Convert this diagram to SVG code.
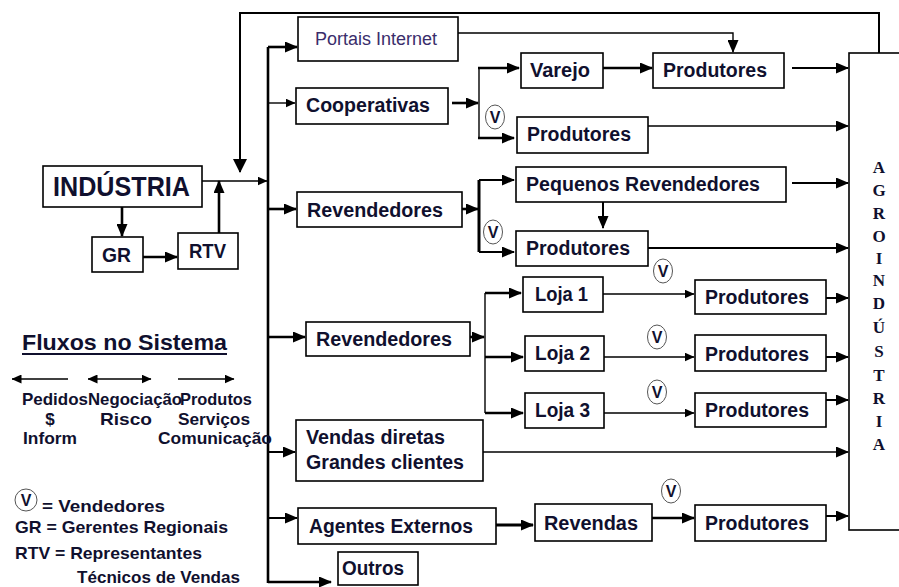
<svg xmlns="http://www.w3.org/2000/svg" width="899" height="587" viewBox="0 0 899 587">
<style>
.box{fill:#fff;stroke:#000;stroke-width:1.6}
.t{font-family:"Liberation Sans",Arial,sans-serif;font-weight:bold;font-size:20px;fill:#10102e}
.tl{font-family:"Liberation Sans",Arial,sans-serif;font-weight:bold;font-size:17px;fill:#10102e}
.ag{font-family:"Liberation Serif","Times New Roman",serif;font-weight:bold;font-size:17px;fill:#10102e;text-anchor:middle}
.c{fill:none;stroke:#000}
.k{stroke-width:2.6}
.m{stroke-width:2}
.n{stroke-width:1.4}
.v{fill:#fff;stroke:#555;stroke-width:1}
.vt{font-family:"Liberation Sans",Arial,sans-serif;font-weight:bold;font-size:16px;fill:#10102e;text-anchor:middle}
</style>
<defs>
<marker id="a" markerUnits="userSpaceOnUse" markerWidth="13" markerHeight="11" refX="12" refY="5.5" orient="auto"><path d="M0,0 L13,5.5 L0,11 Z" fill="#000"/></marker>
<marker id="s" markerUnits="userSpaceOnUse" markerWidth="10" markerHeight="9" refX="9.5" refY="4.5" orient="auto"><path d="M0,0 L10,4.5 L0,9 Z" fill="#000"/></marker>
<marker id="L" markerUnits="userSpaceOnUse" markerWidth="14" markerHeight="14" refX="13" refY="7" orient="auto"><path d="M0,0 L14,7 L0,14 Z" fill="#000"/></marker>
<marker id="sb" markerUnits="userSpaceOnUse" markerWidth="10" markerHeight="9" refX="0.5" refY="4.5" orient="auto"><path d="M10,0 L0,4.5 L10,9 Z" fill="#000"/></marker>
</defs>

<g id="connectors">
<line class="c k" x1="122" y1="207" x2="122" y2="236" marker-end="url(#a)"/>
<line class="c k" x1="143" y1="257" x2="177" y2="257" marker-end="url(#a)"/>
<line class="c k" x1="219" y1="233" x2="219" y2="181" marker-end="url(#a)"/>
<line class="c n" x1="197" y1="181" x2="267" y2="181" marker-end="url(#s)"/>
<path class="c m" d="M879,57 V13 H240 V172" marker-end="url(#L)"/>
<line class="c k" x1="268" y1="47" x2="268" y2="583"/>
<line class="c k" x1="268" y1="47" x2="297" y2="47" marker-end="url(#a)"/>
<line class="c n" x1="268" y1="103" x2="295" y2="103" marker-end="url(#s)"/>
<line class="c k" x1="268" y1="209" x2="296" y2="209" marker-end="url(#a)"/>
<line class="c k" x1="268" y1="337" x2="305" y2="337" marker-end="url(#a)"/>
<line class="c m" x1="268" y1="452" x2="295" y2="452" marker-end="url(#a)"/>
<line class="c m" x1="268" y1="518" x2="297" y2="518" marker-end="url(#a)"/>
<line class="c k" x1="268" y1="582" x2="331" y2="582" marker-end="url(#a)"/>
<path class="c n" d="M458,33 H733 V52" marker-end="url(#a)"/>
<line class="c k" x1="452" y1="103" x2="478" y2="103" marker-end="url(#a)"/>
<line class="c n" x1="479" y1="68" x2="479" y2="138"/>
<line class="c k" x1="478" y1="68" x2="519" y2="68" marker-end="url(#a)"/>
<line class="c k" x1="478" y1="138" x2="514" y2="138" marker-end="url(#a)"/>
<line class="c k" x1="603" y1="68" x2="652" y2="68" marker-end="url(#a)"/>
<line class="c m" x1="792" y1="68" x2="848" y2="68" marker-end="url(#a)"/>
<line class="c n" x1="648" y1="126" x2="848" y2="126" marker-end="url(#a)"/>
<line class="c k" x1="462" y1="209" x2="478" y2="209" marker-end="url(#a)"/>
<line class="c" style="stroke-width:3" x1="479" y1="180" x2="479" y2="252"/>
<line class="c m" x1="479" y1="180" x2="514" y2="180" marker-end="url(#a)"/>
<line class="c m" x1="479" y1="252" x2="514" y2="252" marker-end="url(#a)"/>
<line class="c m" x1="792" y1="183" x2="848" y2="183" marker-end="url(#a)"/>
<line class="c m" x1="603" y1="202" x2="603" y2="228" marker-end="url(#a)"/>
<line class="c m" x1="648" y1="248" x2="848" y2="248" marker-end="url(#a)"/>
<line class="c k" x1="470" y1="337" x2="484" y2="337" marker-end="url(#a)"/>
<line class="c n" x1="485" y1="293" x2="485" y2="413"/>
<line class="c k" x1="485" y1="293" x2="521" y2="293" marker-end="url(#a)"/>
<line class="c k" x1="485" y1="357" x2="523" y2="357" marker-end="url(#a)"/>
<line class="c k" x1="485" y1="413" x2="523" y2="413" marker-end="url(#a)"/>
<line class="c n" x1="597" y1="294" x2="694" y2="294" marker-end="url(#s)"/>
<line class="c n" x1="604" y1="357" x2="694" y2="357" marker-end="url(#s)"/>
<line class="c n" x1="604" y1="413" x2="694" y2="413" marker-end="url(#s)"/>
<line class="c m" x1="821" y1="298" x2="848" y2="298" marker-end="url(#a)"/>
<line class="c m" x1="821" y1="357" x2="848" y2="357" marker-end="url(#a)"/>
<line class="c m" x1="821" y1="400" x2="848" y2="400" marker-end="url(#a)"/>
<line class="c n" x1="483" y1="452" x2="848" y2="452" marker-end="url(#a)"/>
<line class="c" style="stroke-width:3" x1="496" y1="525" x2="533" y2="525" marker-end="url(#a)"/>
<line class="c k" x1="652" y1="518" x2="694" y2="518" marker-end="url(#a)"/>
<line class="c m" x1="821" y1="516" x2="848" y2="516" marker-end="url(#a)"/>
</g>

<g id="industria"><rect class="box" x="43" y="166" width="159" height="41"/><text class="t" x="53" y="196" style="font-size:28px" textLength="137" lengthAdjust="spacingAndGlyphs">INDÚSTRIA</text></g>
<g id="gr"><rect class="box" x="92" y="237" width="51" height="35"/><text class="t" x="102" y="262" textLength="29" lengthAdjust="spacingAndGlyphs">GR</text></g>
<g id="rtv"><rect class="box" x="178" y="233" width="60" height="36"/><text class="t" x="189" y="258" textLength="37" lengthAdjust="spacingAndGlyphs">RTV</text></g>
<g id="portais"><rect class="box" x="298" y="17" width="160" height="44"/><text x="315" y="45" style="font-family:'Liberation Sans',Arial,sans-serif;font-size:18px;fill:#3a2d6b" textLength="122" lengthAdjust="spacingAndGlyphs">Portais Internet</text></g>
<g id="cooperativas"><rect class="box" x="296" y="88" width="152" height="36"/><text class="t" x="306" y="112" textLength="124" lengthAdjust="spacingAndGlyphs">Cooperativas</text></g>
<g id="varejo"><rect class="box" x="521" y="53" width="82" height="35"/><text class="t" x="530" y="77" textLength="60" lengthAdjust="spacingAndGlyphs">Varejo</text></g>
<g id="produtores1"><rect class="box" x="653" y="53" width="131" height="35"/><text class="t" x="663" y="77" textLength="104" lengthAdjust="spacingAndGlyphs">Produtores</text></g>
<g id="produtores2"><rect class="box" x="517" y="117" width="131" height="36"/><text class="t" x="527" y="141" textLength="104" lengthAdjust="spacingAndGlyphs">Produtores</text></g>
<g id="revendedores1"><rect class="box" x="297" y="192" width="165" height="35"/><text class="t" x="307" y="217" textLength="136" lengthAdjust="spacingAndGlyphs">Revendedores</text></g>
<g id="pequenos"><rect class="box" x="516" y="167" width="270" height="35"/><text class="t" x="526" y="191" textLength="234" lengthAdjust="spacingAndGlyphs">Pequenos Revendedores</text></g>
<g id="produtores3"><rect class="box" x="516" y="231" width="132" height="35"/><text class="t" x="526" y="255" textLength="104" lengthAdjust="spacingAndGlyphs">Produtores</text></g>
<g id="revendedores2"><rect class="box" x="306" y="322" width="164" height="34"/><text class="t" x="316" y="346" textLength="136" lengthAdjust="spacingAndGlyphs">Revendedores</text></g>
<g id="loja1"><rect class="box" x="523" y="277" width="80" height="35"/><text class="t" x="535" y="301" textLength="53" lengthAdjust="spacingAndGlyphs">Loja 1</text></g>
<g id="loja2"><rect class="box" x="525" y="336" width="79" height="35"/><text class="t" x="535" y="360" textLength="55" lengthAdjust="spacingAndGlyphs">Loja 2</text></g>
<g id="loja3"><rect class="box" x="525" y="393" width="79" height="35"/><text class="t" x="535" y="417" textLength="55" lengthAdjust="spacingAndGlyphs">Loja 3</text></g>
<g id="produtores4"><rect class="box" x="695" y="280" width="131" height="34"/><text class="t" x="705" y="304" textLength="104" lengthAdjust="spacingAndGlyphs">Produtores</text></g>
<g id="produtores5"><rect class="box" x="695" y="335" width="131" height="36"/><text class="t" x="705" y="361" textLength="104" lengthAdjust="spacingAndGlyphs">Produtores</text></g>
<g id="produtores6"><rect class="box" x="695" y="393" width="131" height="34"/><text class="t" x="705" y="417" textLength="104" lengthAdjust="spacingAndGlyphs">Produtores</text></g>
<g id="vendas"><rect class="box" x="296" y="420" width="187" height="61"/><text class="t" x="306" y="444" textLength="139" lengthAdjust="spacingAndGlyphs">Vendas diretas</text><text class="t" x="306" y="469" textLength="158" lengthAdjust="spacingAndGlyphs">Grandes clientes</text></g>
<g id="agentes"><rect class="box" x="298" y="508" width="198" height="36"/><text class="t" x="309" y="533" textLength="164" lengthAdjust="spacingAndGlyphs">Agentes Externos</text></g>
<g id="revendas"><rect class="box" x="535" y="504" width="117" height="37"/><text class="t" x="544" y="530" textLength="94" lengthAdjust="spacingAndGlyphs">Revendas</text></g>
<g id="produtores7"><rect class="box" x="695" y="505" width="131" height="36"/><text class="t" x="705" y="530" textLength="104" lengthAdjust="spacingAndGlyphs">Produtores</text></g>
<g id="outros"><rect class="box" x="338" y="552" width="80" height="33"/><text class="t" x="342" y="575" textLength="62" lengthAdjust="spacingAndGlyphs">Outros</text></g>
<g id="agroindustria"><rect class="box" x="849" y="53" width="60" height="477"/>
<text class="ag" x="879" y="173">A</text><text class="ag" x="879" y="196">G</text><text class="ag" x="879" y="219">R</text><text class="ag" x="879" y="242">O</text><text class="ag" x="879" y="264">I</text><text class="ag" x="879" y="286">N</text><text class="ag" x="879" y="309">D</text><text class="ag" x="879" y="333">Ú</text><text class="ag" x="879" y="357">S</text><text class="ag" x="879" y="381">T</text><text class="ag" x="879" y="404">R</text><text class="ag" x="879" y="427">I</text><text class="ag" x="879" y="450">A</text>
</g>

<g id="vendedores-marks">
<ellipse class="v" cx="495" cy="117" rx="9.5" ry="12"/><text class="vt" x="495" y="123">V</text>
<ellipse class="v" cx="493" cy="232" rx="9.5" ry="12"/><text class="vt" x="493" y="238">V</text>
<ellipse class="v" cx="663" cy="271" rx="9.5" ry="12"/><text class="vt" x="663" y="277">V</text>
<ellipse class="v" cx="657" cy="337" rx="9.5" ry="12"/><text class="vt" x="657" y="343">V</text>
<ellipse class="v" cx="657" cy="392" rx="9.5" ry="12"/><text class="vt" x="657" y="398">V</text>
<ellipse class="v" cx="671" cy="491" rx="9.5" ry="12"/><text class="vt" x="671" y="497">V</text>
</g>

<g id="legend">
<text class="t" x="22" y="350" style="font-size:22px" textLength="205" lengthAdjust="spacingAndGlyphs">Fluxos no Sistema</text>
<line x1="22" y1="354" x2="227" y2="354" stroke="#10102e" stroke-width="2"/>
<line class="c n" x1="68" y1="379" x2="12" y2="379" marker-end="url(#s)"/>
<line class="c n" x1="88" y1="379" x2="151" y2="379" marker-start="url(#sb)" marker-end="url(#s)"/>
<line class="c n" x1="178" y1="379" x2="234" y2="379" marker-end="url(#s)"/>
<text class="tl" x="22" y="405" textLength="66" lengthAdjust="spacingAndGlyphs">Pedidos</text>
<text class="tl" x="88" y="405" textLength="94" lengthAdjust="spacingAndGlyphs">Negociação</text>
<text class="tl" x="180" y="405" textLength="72" lengthAdjust="spacingAndGlyphs">Produtos</text>
<text class="tl" x="50" y="425" text-anchor="middle">$</text>
<text class="tl" x="100" y="425" textLength="52" lengthAdjust="spacingAndGlyphs">Risco</text>
<text class="tl" x="178" y="425" textLength="72" lengthAdjust="spacingAndGlyphs">Serviços</text>
<text class="tl" x="23" y="444" textLength="54" lengthAdjust="spacingAndGlyphs">Inform</text>
<text class="tl" x="158" y="444" textLength="114" lengthAdjust="spacingAndGlyphs">Comunicação</text>
<ellipse class="v" cx="26" cy="500" rx="11" ry="11"/><text class="vt" x="26" y="506">V</text>
<text class="tl" x="42" y="512" textLength="123" lengthAdjust="spacingAndGlyphs">=  Vendedores</text>
<text class="tl" x="15" y="533" textLength="213" lengthAdjust="spacingAndGlyphs">GR = Gerentes Regionais</text>
<text class="tl" x="15" y="559" textLength="187" lengthAdjust="spacingAndGlyphs">RTV = Representantes</text>
<text class="tl" x="77" y="583" textLength="163" lengthAdjust="spacingAndGlyphs">Técnicos de Vendas</text>
</g>
</svg>
